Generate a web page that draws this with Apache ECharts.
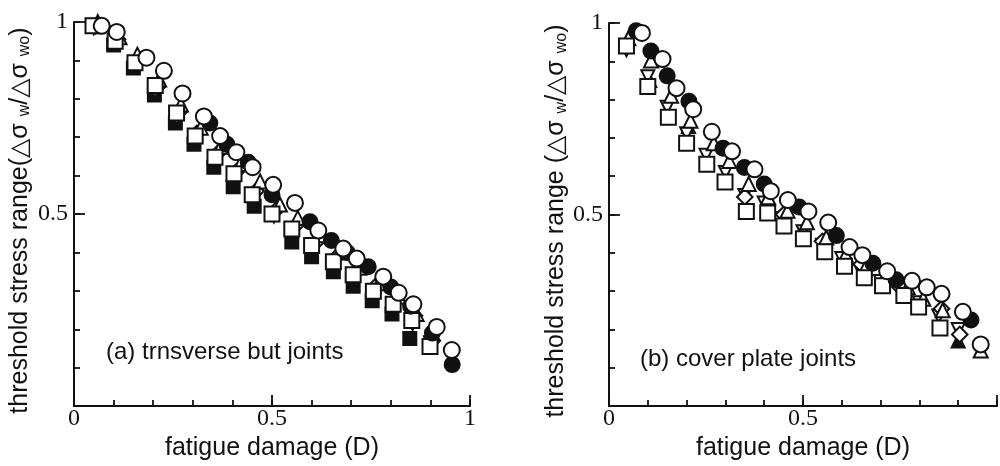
<!DOCTYPE html>
<html>
<head>
<meta charset="utf-8">
<title>threshold stress range vs fatigue damage</title>
<script src="https://cdn.jsdelivr.net/npm/echarts@6/dist/echarts.min.js"></script>
<style>
  html, body { margin: 0; padding: 0; background: #fff; }
  #main { width: 1000px; height: 466px; }
</style>
</head>
<body>
<div id="main"></div>
<script>
// 数据: [fatigue damage D, threshold stress range]
// (a) trnsverse but joints
var leftOpenCircle = [[0.07,0.99],[0.108,0.974],[0.183,0.907],[0.227,0.873],[0.274,0.814],[0.328,0.754],[0.369,0.703],[0.41,0.661],[0.451,0.622],[0.503,0.576],[0.558,0.529],[0.617,0.457],[0.68,0.41],[0.714,0.384],[0.781,0.337],[0.82,0.295],[0.857,0.265],[0.916,0.206],[0.954,0.146]];
var leftFilledCircle = [[0.343,0.737],[0.386,0.682],[0.44,0.635],[0.5,0.55],[0.596,0.48],[0.65,0.431],[0.69,0.4],[0.743,0.363],[0.8,0.31],[0.85,0.26],[0.905,0.19],[0.955,0.108]];
var leftTriangle = [[0.06,1.0],[0.115,0.96],[0.16,0.915],[0.215,0.85],[0.27,0.785],[0.32,0.725],[0.37,0.675],[0.42,0.63],[0.47,0.585],[0.52,0.525],[0.565,0.49],[0.62,0.445],[0.67,0.4],[0.72,0.36],[0.77,0.32],[0.82,0.285],[0.865,0.24],[0.905,0.19]];
var leftDiamond = [[0.055,0.99],[0.11,0.955],[0.16,0.9],[0.21,0.83],[0.265,0.765],[0.31,0.71],[0.36,0.655],[0.41,0.61],[0.46,0.56],[0.51,0.51],[0.56,0.47],[0.61,0.425],[0.66,0.385],[0.71,0.35],[0.76,0.31],[0.81,0.275],[0.86,0.235],[0.905,0.17]];
var leftInvTriangle = [[0.05,0.985],[0.105,0.945],[0.155,0.885],[0.205,0.82],[0.26,0.75],[0.305,0.695],[0.355,0.64],[0.405,0.595],[0.455,0.545],[0.505,0.495],[0.555,0.455],[0.605,0.41],[0.655,0.37],[0.705,0.335],[0.755,0.295],[0.805,0.26],[0.855,0.215],[0.9,0.165]];
var leftOpenSquare = [[0.048,0.99],[0.104,0.95],[0.154,0.894],[0.205,0.835],[0.259,0.763],[0.306,0.703],[0.356,0.648],[0.404,0.605],[0.45,0.55],[0.5,0.5],[0.55,0.461],[0.6,0.418],[0.655,0.376],[0.705,0.342],[0.756,0.299],[0.806,0.265],[0.853,0.223],[0.899,0.155]];
var leftFilledSquare = [[0.1,0.94],[0.15,0.88],[0.203,0.81],[0.256,0.737],[0.303,0.682],[0.353,0.622],[0.402,0.571],[0.455,0.52],[0.55,0.427],[0.6,0.389],[0.655,0.35],[0.705,0.312],[0.753,0.274],[0.803,0.24],[0.848,0.176]];

// (b) cover plate joints
var rightOpenCircle = [[0.085,0.974],[0.138,0.906],[0.174,0.83],[0.217,0.775],[0.265,0.716],[0.317,0.665],[0.375,0.618],[0.417,0.561],[0.461,0.538],[0.514,0.508],[0.565,0.479],[0.62,0.415],[0.653,0.394],[0.717,0.352],[0.781,0.327],[0.819,0.31],[0.857,0.293],[0.912,0.246],[0.958,0.161]];
var rightFilledCircle = [[0.07,0.98],[0.108,0.927],[0.15,0.862],[0.206,0.796],[0.294,0.673],[0.349,0.623],[0.4,0.58],[0.49,0.52],[0.586,0.445],[0.68,0.373],[0.74,0.33],[0.933,0.225]];
var rightTriangle = [[0.05,0.96],[0.108,0.902],[0.16,0.81],[0.21,0.745],[0.27,0.686],[0.31,0.64],[0.36,0.58],[0.41,0.545],[0.46,0.51],[0.51,0.48],[0.56,0.44],[0.61,0.395],[0.66,0.36],[0.71,0.335],[0.77,0.31],[0.81,0.28],[0.86,0.25],[0.958,0.145]];
var rightFilledTriangle = [[0.105,0.85],[0.205,0.73],[0.9,0.17]];
var rightInvTriangle = [[0.045,0.93],[0.1,0.86],[0.15,0.78],[0.2,0.711],[0.25,0.655],[0.3,0.61],[0.35,0.55],[0.4,0.53],[0.45,0.49],[0.5,0.455],[0.55,0.42],[0.6,0.385],[0.65,0.35],[0.7,0.325],[0.76,0.3],[0.8,0.27],[0.85,0.235],[0.9,0.2]];
var rightDiamond = [[0.35,0.546],[0.45,0.5],[0.55,0.43],[0.65,0.37],[0.75,0.31],[0.857,0.254],[0.904,0.187]];
var rightOpenSquare = [[0.045,0.94],[0.1,0.834],[0.153,0.754],[0.2,0.686],[0.252,0.631],[0.299,0.585],[0.354,0.508],[0.409,0.504],[0.451,0.47],[0.501,0.437],[0.556,0.403],[0.607,0.365],[0.658,0.335],[0.705,0.314],[0.76,0.289],[0.798,0.259],[0.853,0.204]];

// 刻度: 小刻度 0.1, 大刻度 0.5
var axisMin = 0;
var axisMax = 1;
var minorStep = 0.1;
var majorStep = 0.5;

var INK = '#111';
var SANS = '"Liberation Sans", "DejaVu Sans", sans-serif';
var SERIF = '"Liberation Serif", "DejaVu Serif", serif';

var chart = echarts.init(document.getElementById('main'));

// 主坐标轴: 线 + 文字 (刻度由叠加轴来画)
function valueAxis(gridIndex, isY, hide) {
  return {
    type: 'value',
    gridIndex: gridIndex,
    position: isY ? 'left' : 'bottom',
    min: axisMin,
    max: axisMax,
    interval: majorStep,
    splitLine: { show: false },
    axisLine: { show: true, onZero: false, lineStyle: { color: INK, width: 2 } },
    axisTick: { show: false },
    axisLabel: {
      color: INK,
      fontFamily: SERIF,
      fontSize: 24,
      margin: isY ? 6 : 1,
      formatter: function (v) {
        if (hide.indexOf(v) >= 0) return '';
        return v === 0.5 ? '0.5' : String(v);
      }
    }
  };
}

// 叠加坐标轴: 只画刻度, 朝内
function tickAxis(gridIndex, isY, step, len) {
  return {
    type: 'value',
    gridIndex: gridIndex,
    position: isY ? 'left' : 'bottom',
    offset: 0,
    min: axisMin,
    max: axisMax,
    interval: step,
    splitLine: { show: false },
    axisLine: { show: false, onZero: false },
    axisTick: { show: true, inside: true, length: len, lineStyle: { color: INK, width: 1.8 } },
    axisLabel: { show: false }
  };
}

var xNameStyle = { color: INK, fontFamily: SANS, fontSize: 25 };
var yNameStyle = {
  color: INK,
  fontFamily: SANS,
  fontSize: 25,
  padding: [0, 13, 0, 0],
  rich: {
    s: { fontFamily: SANS, fontSize: 16, color: INK, verticalAlign: 'bottom', padding: [9, 0, 0, 0] }
  }
};

// 系列
function dots(data, gridIndex, symbol, filled, size, rotate) {
  return {
    type: 'scatter',
    xAxisIndex: gridIndex,
    yAxisIndex: gridIndex,
    data: data,
    symbol: symbol,
    symbolSize: size,
    symbolRotate: rotate || 0,
    itemStyle: {
      color: filled ? INK : '#fff',
      borderColor: INK,
      borderWidth: 2,
      opacity: 1
    },
    emphasis: { disabled: true },
    silent: true
  };
}

var option = {
  backgroundColor: '#fff',
  animation: false,
  grid: [
    { left: 74, top: 22, width: 396, height: 392 },
    { left: 609, top: 23, width: 394, height: 394 }
  ],
  xAxis: [
    Object.assign(valueAxis(0, false, []), {
      name: 'fatigue damage (D)', nameLocation: 'middle', nameGap: 18, nameTextStyle: xNameStyle
    }),
    Object.assign(valueAxis(1, false, [1]), {
      name: 'fatigue damage (D)', nameLocation: 'middle', nameGap: 18, nameTextStyle: xNameStyle
    }),
    tickAxis(0, false, minorStep, 6),
    tickAxis(1, false, minorStep, 6),
    tickAxis(0, false, majorStep, 11),
    tickAxis(1, false, majorStep, 11)
  ],
  yAxis: [
    Object.assign(valueAxis(0, true, [0]), {
      name: 'threshold stress range(\u25B3\u03C3 {s|w}/\u25B3\u03C3 {s|wo})',
      nameLocation: 'middle', nameRotate: 90, nameGap: 41, nameTextStyle: yNameStyle
    }),
    Object.assign(valueAxis(1, true, [0]), {
      name: 'threshold stress range (\u25B3\u03C3 {s|w}/\u25B3\u03C3 {s|wo})',
      nameLocation: 'middle', nameRotate: 90, nameGap: 36, nameTextStyle: yNameStyle
    }),
    tickAxis(0, true, minorStep, 6),
    tickAxis(1, true, minorStep, 6),
    tickAxis(0, true, majorStep, 11),
    tickAxis(1, true, majorStep, 11)
  ],
  graphic: [
    { type: 'text', left: 106, top: 340, style: { text: '(a) trnsverse but joints', font: '24px ' + SANS, fill: INK } },
    { type: 'text', left: 640, top: 347, style: { text: '(b) cover plate joints', font: '24px ' + SANS, fill: INK } }
  ],
  series: [
    dots(leftFilledSquare, 0, 'rect', true, 13),
    dots(leftInvTriangle, 0, 'triangle', false, 13, 180),
    dots(leftDiamond, 0, 'rect', false, 11, 45),
    dots(leftTriangle, 0, 'triangle', false, 14),
    dots(leftOpenSquare, 0, 'rect', false, 15),
    dots(leftFilledCircle, 0, 'circle', true, 15),
    dots(leftOpenCircle, 0, 'circle', false, 16),

    dots(rightFilledTriangle, 1, 'triangle', true, 13),
    dots(rightInvTriangle, 1, 'triangle', false, 13, 180),
    dots(rightDiamond, 1, 'rect', false, 11, 45),
    dots(rightTriangle, 1, 'triangle', false, 14),
    dots(rightOpenSquare, 1, 'rect', false, 15),
    dots(rightFilledCircle, 1, 'circle', true, 15),
    dots(rightOpenCircle, 1, 'circle', false, 16)
  ]
};

chart.setOption(option);
</script>
</body>
</html>
